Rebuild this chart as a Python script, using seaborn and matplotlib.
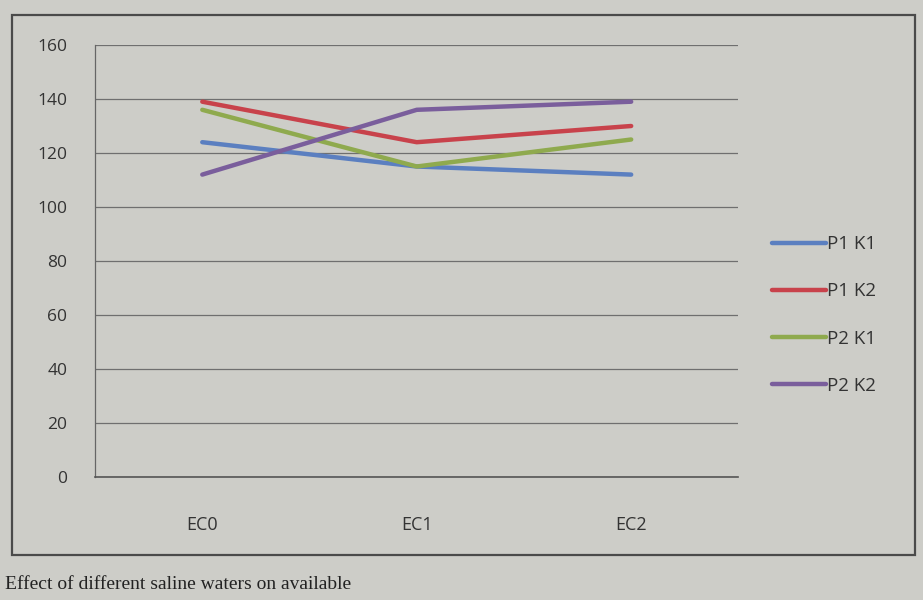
import matplotlib
matplotlib.use("Agg")
import matplotlib.pyplot as plt
import matplotlib.patches as mpatches
import seaborn as sns
import pandas as pd

# Salinity levels and treatment series
categories = ["EC0", "EC1", "EC2"]
series_names = ["P1 K1", "P1 K2", "P2 K1", "P2 K2"]
p1_k1 = [124, 115, 112]
p1_k2 = [139, 124, 130]
p2_k1 = [136, 115, 125]
p2_k2 = [112, 136, 139]
y_ticks = [0, 20, 40, 60, 80, 100, 120, 140, 160]
caption = "Effect of different saline waters on available"

colors = ["#5b7fc0", "#c8424b", "#8faa4e", "#7a5e9c"]

rows = []
for name, vals in zip(series_names, [p1_k1, p1_k2, p2_k1, p2_k2]):
    for i, (cat, v) in enumerate(zip(categories, vals)):
        rows.append({"pos": i, "EC": cat, "value": v, "series": name})
df = pd.DataFrame(rows)

sns.set_theme(style="white")
plt.rcParams["font.family"] = ["Open Sans", "DejaVu Sans"]

bg = "#cdcdc8"
fig = plt.figure(figsize=(9.23, 6.0), dpi=100, facecolor=bg)
ax = fig.add_axes([0.103, 0.205, 0.697, 0.72])
ax.set_facecolor(bg)

sns.lineplot(data=df, x="pos", y="value", hue="series", palette=colors,
             linewidth=3.2, ax=ax, legend=False, sort=False)

ax.set_xlim(-0.5, 2.5)
ax.set_ylim(0, 160)
ax.set_yticks(y_ticks)
ax.set_yticklabels([str(t) for t in y_ticks], fontsize=12.5, color="#333333")
ax.yaxis.grid(True, color="#6f6f6f", linewidth=0.9)
ax.set_axisbelow(True)

ax.set_xticks([0, 1, 2])
ax.set_xticklabels(categories, fontsize=13, color="#333333")
ax.set_xticks([0.5, 1.5, 2.5], minor=True)
ax.tick_params(axis="x", which="major", length=0, pad=28)
ax.tick_params(axis="x", which="minor", length=6, color="#555555", width=0.9)
ax.tick_params(axis="y", length=6, color="#555555", width=0.9, pad=14)
ax.set_xlabel("")
ax.set_ylabel("")

for side in ["top", "right"]:
    ax.spines[side].set_visible(False)
ax.spines["left"].set_color("#666666")
ax.spines["left"].set_linewidth(0.9)
ax.spines["bottom"].set_color("#555555")
ax.spines["bottom"].set_linewidth(1.2)

handles = [plt.Line2D([0], [0], color=c, lw=3.2) for c in colors]
fig.legend(handles, series_names, loc="center left",
           bbox_to_anchor=(0.818, 0.475), frameon=False, fontsize=13.5,
           handlelength=2.9, handletextpad=0.05, labelspacing=1.55,
           labelcolor="#333333")

# Chart frame around plot and legend
frame = mpatches.Rectangle((0.013, 0.075), 0.978, 0.9, transform=fig.transFigure,
                           fill=False, edgecolor="#4a4a4a", linewidth=1.6)
fig.patches.append(frame)

fig.text(0.005, 0.012, caption, family=["Liberation Serif", "DejaVu Serif"],
         fontsize=14, color="#222222", ha="left", va="bottom")

fig.savefig("out.png", dpi=100, facecolor=bg)
